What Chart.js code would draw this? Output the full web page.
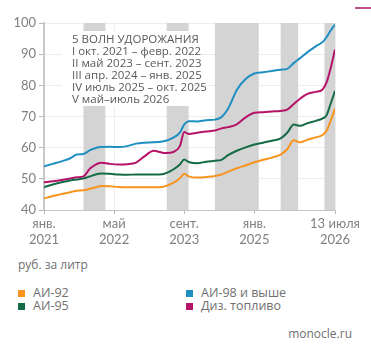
<!DOCTYPE html>
<html>
<head>
<meta charset="utf-8">
<script src="https://cdn.jsdelivr.net/npm/chart.js@4"></script>
<style>
  body { margin: 0; background: #fff; font-family: "Open Sans", Lato, sans-serif; }
  #wrap { position: relative; width: 371px; height: 356px; overflow: hidden; }
  #box { position: absolute; left: 0; top: 0; width: 371px; height: 250px; }
  .note { position: absolute; color: #707070; font-size: 12px; line-height: 14px; white-space: nowrap; }
  .leg { position: absolute; color: #707070; font-size: 12.5px; line-height: 14px; white-space: nowrap; }
  .leg i { position: absolute; left: -15px; top: 4px; width: 7px; height: 7px; }
  #deco { position: absolute; left: 355px; top: 7px; width: 16px; height: 2px; background: #c0508a; }
</style>
</head>
<body>
<div id="wrap">
  <div id="deco"></div>
  <div id="box"><canvas id="chart-line"></canvas></div>
  <div class="note" style="left:18px; top:258px;">руб. за литр</div>
  <div id="legend"></div>
  <div class="note" style="right:19px; top:327px;">monocle.ru</div>
</div>
<script>
// months since jan 2021
const months = [0, 2, 4, 6, 7.5, 9, 10.5, 12, 13, 15, 17, 19, 21, 23, 25, 27, 28, 29.5, 31, 32, 33,
  35, 37, 39, 40.5, 42, 44, 46, 48, 50, 52, 54, 55.5, 57, 58.5, 60, 62, 63.5, 64.5, 65.5, 66.4];

const ai92 = [43.7, 44.5, 45.1, 45.7, 46.2, 46.3, 46.8, 47.4, 47.7, 47.6, 47.4, 47.3, 47.3, 47.3, 47.3, 47.4, 47.8, 48.7, 50.2, 51.6, 50.8,
  50.4, 50.6, 50.9, 51.4, 52.3, 53.4, 54.3, 55.3, 56.1, 56.8, 57.8, 59.5, 62.4, 61.7, 62.5, 63.3, 64.0, 65.5, 69.0, 72.5];
const ai95 = [47.3, 48.2, 48.9, 49.5, 49.8, 50.1, 50.8, 51.5, 51.7, 51.6, 51.4, 51.3, 51.4, 51.4, 51.4, 51.5, 51.9, 53.0, 54.6, 56.2, 55.4,
  55.0, 55.5, 55.8, 56.1, 57.6, 59.0, 60.1, 61.0, 61.6, 62.2, 63.0, 64.8, 67.4, 67.0, 67.8, 68.6, 69.3, 70.5, 74.5, 78.2];
const ai98 = [54.0, 54.8, 55.6, 56.6, 57.8, 58.0, 59.2, 60.0, 60.2, 60.3, 60.2, 60.5, 61.3, 61.6, 61.7, 62.0, 62.3, 63.2, 64.8, 67.5, 68.5,
  68.4, 68.8, 69.0, 69.8, 72.5, 78.5, 82.0, 83.8, 84.2, 84.6, 85.0, 85.3, 87.2, 88.8, 90.5, 92.5, 93.8, 95.5, 97.8, 99.5];
const diesel = [48.9, 49.2, 49.6, 50.1, 50.5, 50.8, 53.3, 54.7, 55.2, 54.8, 54.6, 54.7, 55.2, 57.3, 59.0, 58.4, 58.3, 58.6, 60.5, 65.0, 64.4,
  64.8, 65.2, 65.5, 66.2, 66.6, 67.5, 69.7, 71.2, 71.4, 71.6, 71.8, 72.2, 74.0, 75.8, 77.2, 77.9, 78.6, 81.0, 86.0, 91.5];

const seriesNames = ['АИ-92', 'АИ-95', 'АИ-98 и выше', 'Диз. топливо'];
const seriesColors = ['#f7941e', '#146b45', '#1e8fc0', '#b5126a'];

const tickMonths = [0, 16, 32, 48, 66.4];
const tickLabels = [['янв.', '2021'], ['май', '2022'], ['сент.', '2023'], ['янв.', '2025'], ['13 июля', '2026']];

// waves of price growth, start/end in months since jan 2021
const waves = [[9, 14], [28, 33], [39, 49], [54, 58], [64, 66.4]];
const waveText = [
  '5 ВОЛН УДОРОЖАНИЯ',
  'I окт. 2021 – февр. 2022',
  'II май 2023 – сент. 2023',
  'III апр. 2024 – янв. 2025',
  'IV июль 2025 – окт. 2025',
  'V май–июль 2026'
];

const wavesPlugin = {
  id: 'waves',
  beforeDatasetsDraw(chart) {
    const { ctx, chartArea: a, scales: { x } } = chart;
    ctx.save();
    ctx.fillStyle = '#d4d4d4';
    waves.forEach(([s, e]) => {
      const x0 = x.getPixelForValue(s);
      const x1 = x.getPixelForValue(e);
      ctx.fillRect(x0, a.top, x1 - x0, a.bottom - a.top);
    });
    // white box behind the note
    ctx.fillStyle = '#fff';
    ctx.fillRect(a.left + 18, 31, 192 - a.left - 18, 75);
    ctx.fillStyle = '#5a5a5a';
    ctx.font = '11.5px "Open Sans", Lato, sans-serif';
    ctx.textBaseline = 'middle';
    waveText.forEach((t, i) => ctx.fillText(t, 72, 40 + i * 11.9));
    ctx.restore();
  }
};

const ctx1 = document.getElementById('chart-line').getContext('2d');
const datasets = [ai92, ai95, ai98, diesel].map((vals, i) => ({
  label: seriesNames[i],
  data: months.map((m, j) => ({ x: m, y: vals[j] })),
  borderColor: seriesColors[i],
  backgroundColor: seriesColors[i],
  borderWidth: 2,
  pointRadius: 0,
  cubicInterpolationMode: 'monotone',
  fill: false
}));

const font = { size: 13, family: 'Lato, "Open Sans", sans-serif' };

window.myChart = new Chart(ctx1, {
  type: 'line',
  data: { datasets },
  options: {
    responsive: true,
    maintainAspectRatio: false,
    animation: false,
    layout: { padding: { top: 23, right: 36, left: 0, bottom: 0 } },
    plugins: { legend: { display: false }, tooltip: { enabled: false } },
    scales: {
      x: {
        type: 'linear',
        min: 0,
        max: 66.4,
        afterBuildTicks: (scale) => { scale.ticks = tickMonths.map(v => ({ value: v })); },
        afterFit: (scale) => { scale.height = 40; },
        border: { color: '#c4c4c4', width: 1 },
        grid: { color: '#ededed', tickColor: '#b8b8b8', tickLength: 4 },
        ticks: {
          color: '#808080',
          font,
          padding: 2,
          maxRotation: 0,
          autoSkip: false,
          callback: (v, i) => tickLabels[i]
        }
      },
      y: {
        min: 40,
        max: 100,
        afterFit: (scale) => { scale.width = 44; },
        border: { color: '#c8c8c8', width: 2 },
        grid: { color: '#ededed', tickColor: '#b8b8b8', tickLength: 5 },
        ticks: { stepSize: 10, color: '#808080', font, padding: 3 }
      }
    }
  },
  plugins: [wavesPlugin]
});

// legend in two columns built from the chart datasets
const legend = document.getElementById('legend');
const pos = [[33, 286], [33, 299], [201, 286], [201, 299]];
window.myChart.data.datasets.forEach((d, i) => {
  const el = document.createElement('div');
  el.className = 'leg';
  el.style.left = pos[i][0] + 'px';
  el.style.top = pos[i][1] + 'px';
  el.innerHTML = '<i style="background:' + d.borderColor + '"></i>' + d.label;
  legend.appendChild(el);
});
</script>
</body>
</html>
